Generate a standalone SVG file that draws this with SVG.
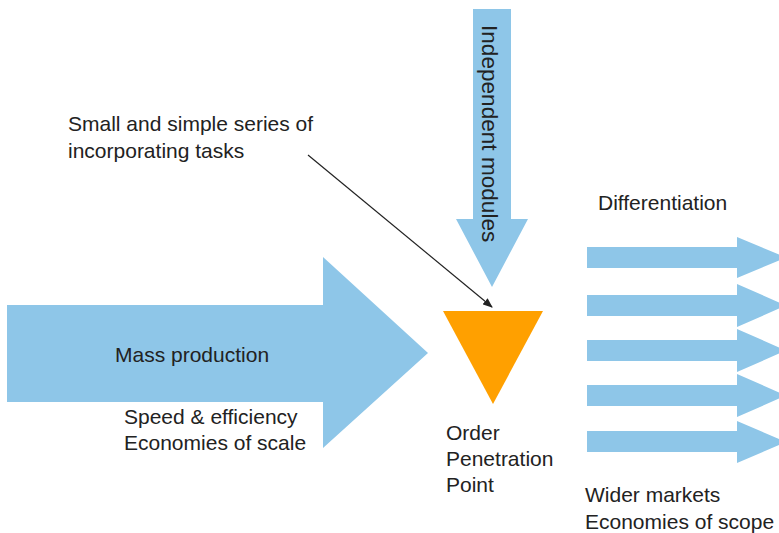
<svg xmlns="http://www.w3.org/2000/svg" width="779" height="533" viewBox="0 0 779 533">
<defs>
<style>
.arrow{fill:#8EC6E8;}
.t{font-family:"Liberation Sans",Arial,sans-serif;font-size:21px;fill:#222;}
</style>
<marker id="ah" markerWidth="10" markerHeight="8" refX="9" refY="4" orient="auto" markerUnits="userSpaceOnUse">
<path d="M0,0 L10,4 L0,8 Z" fill="#222"/>
</marker>
</defs>
<rect width="779" height="533" fill="#fff"/>
<g id="mass-production">
<path class="arrow" d="M7,305 L323,305 L323,257 L428,353 L323,448 L323,402 L7,402 Z"/>
<text class="t" x="115" y="362">Mass production</text>
<text class="t" x="124" y="424">Speed &amp; efficiency</text>
<text class="t" x="124" y="450">Economies of scale</text>
</g>
<g id="independent-modules">
<path class="arrow" d="M473,9 L511,9 L511,219 L528,219 L492,287 L456,219 L473,219 Z"/>
<text class="t" style="font-size:22.6px" transform="translate(482,25) rotate(90)">Independent modules</text>
</g>
<g id="order-penetration-point">
<path d="M443,311 L543,311 L493,404 Z" fill="#FFA000"/>
<text class="t" x="446" y="440">Order</text>
<text class="t" x="446" y="466">Penetration</text>
<text class="t" x="446" y="492">Point</text>
</g>
<g id="differentiation">
<path class="arrow" d="M587,247 L737,247 L737,237 L786,257.5 L737,278 L737,268 L587,268 Z"/>
<path class="arrow" d="M587,295 L737,295 L737,284 L786,305.5 L737,327 L737,316 L587,316 Z"/>
<path class="arrow" d="M587,340 L737,340 L737,329 L786,350.5 L737,372 L737,361 L587,361 Z"/>
<path class="arrow" d="M587,385 L737,385 L737,374 L786,395.5 L737,417 L737,406 L587,406 Z"/>
<path class="arrow" d="M587,431 L737,431 L737,421 L786,442 L737,463 L737,452 L587,452 Z"/>
<text class="t" x="598" y="210">Differentiation</text>
<text class="t" x="585" y="502">Wider markets</text>
<text class="t" x="585" y="529">Economies of scope</text>
</g>
<g id="small-tasks">
<text class="t" x="68" y="131">Small and simple series of</text>
<text class="t" x="68" y="158">incorporating tasks</text>
</g>
<g id="connectors">
<line x1="308" y1="155" x2="492" y2="307" stroke="#222" stroke-width="1.2" marker-end="url(#ah)"/>
</g>
</svg>
